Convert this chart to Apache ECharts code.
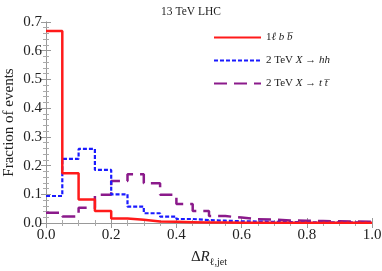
<!DOCTYPE html>
<html><head><meta charset="utf-8">
<script src="https://cdn.jsdelivr.net/npm/echarts@6/dist/echarts.min.js"></script>
<style>html,body{margin:0;padding:0;background:#fff}#c{width:382px;height:271px}</style>
</head><body><div id="c"></div>
<script>
const binEdges = [0,0.05,0.1,0.15,0.2,0.25,0.3,0.35,0.4,0.45,0.5,0.55,0.6,0.65,0.7,0.75,0.8,0.85,0.9,0.95,1.0];
const bbValues = [0.669,0.173,0.082,0.042,0.016,0.011,0.005,0.004,0.003,0.002,0.002,0.001,0.001,0.001,0.001,0.001,0.001,0.001,0.001,0.001];
const hhValues = [0.094,0.223,0.258,0.185,0.100,0.057,0.034,0.022,0.014,0.010,0.008,0.006,0.005,0.004,0.003,0.003,0.002,0.002,0.002,0.002];
const ttValues = [0.036,0.023,0.053,0.098,0.146,0.170,0.138,0.098,0.066,0.042,0.024,0.019,0.013,0.012,0.009,0.008,0.007,0.006,0.005,0.004];
const yTicks = [0,0.1,0.2,0.3,0.4,0.5,0.6,0.7];
const xTicks = [0,0.2,0.4,0.6,0.8,1.0];

function steps(vals){
  const d = vals.map((v,i)=>[binEdges[i], v]);
  d.push([binEdges[binEdges.length-1], vals[vals.length-1]]);
  return d;
}
const serif = "'Liberation Serif', 'DejaVu Serif', serif";
const chart = echarts.init(document.getElementById('c'));
function axisCommon(split){
  return {
    axisLine:{show:true,lineStyle:{color:'#999',width:1}},
    axisTick:{show:true,inside:true,length:5,lineStyle:{color:'#999'}},
    minorTick:{show:true,splitNumber:split,length:3,lineStyle:{color:'#aaa'}},
    splitLine:{show:false}
  };
}
chart.setOption({
  animation:false,
  textStyle:{fontFamily:serif},
  title:{text:'13 TeV LHC',left:'center',top:1,textStyle:{fontFamily:serif,fontSize:11.5,fontWeight:'normal',color:'#222'}},
  grid:{left:46,right:10,top:22,bottom:48,containLabel:false,outerBoundsMode:'none'},
  legend:{
    orient:'vertical',left:208,top:27,itemGap:12,itemWidth:47,itemHeight:12,
    itemStyle:{opacity:0},
    textStyle:{fontFamily:serif,fontSize:11,color:'#222',
      rich:{i:{fontStyle:'italic',fontFamily:serif,fontSize:11,color:'#222'},n:{fontFamily:serif,fontSize:11,color:'#222'}}},
    formatter:function(name){
      if(name==='bb') return '{n|1}{i|ℓ b b\u0305}';
      if(name==='hh') return '{n|2 TeV }{i|X}{n| → }{i|hh}';
      return '{n|2 TeV }{i|X}{n| → }{i|t t\u0305}';
    },
    data:['bb','hh','tt']
  },
  xAxis:[
    Object.assign({type:'value',min:0,max:1,interval:0.2,position:'bottom',
      axisLabel:{fontFamily:serif,fontSize:15,color:'#222',margin:5,formatter:v=>v.toFixed(1)},
      name:'{d|Δ}{r|R}{s|ℓ,jet}',nameLocation:'middle',nameGap:25,nameMoveOverlap:false,
      nameTextStyle:{rich:{d:{fontFamily:serif,fontSize:15,color:'#222'},r:{fontFamily:serif,fontStyle:'italic',fontSize:15,color:'#222'},s:{fontFamily:serif,fontSize:10,color:'#222',verticalAlign:'bottom',padding:[9,0,0,0]}}}
    },axisCommon(4)),
    Object.assign({type:'value',min:0,max:1,interval:0.2,position:'top',axisLabel:{show:false}},axisCommon(4))
  ],
  yAxis:[
    Object.assign({type:'value',min:0,max:0.7,interval:0.1,position:'left',
      axisLabel:{fontFamily:serif,fontSize:15,color:'#222',margin:4,formatter:v=>v.toFixed(1)},
      name:'Fraction of events',nameLocation:'middle',nameGap:29,nameMoveOverlap:false,
      nameTextStyle:{fontFamily:serif,fontSize:15,color:'#222'}
    },axisCommon(5)),
    Object.assign({type:'value',min:0,max:0.7,interval:0.1,position:'right',axisLabel:{show:false}},axisCommon(5))
  ],
  series:[
    {name:'bb',type:'line',step:'end',showSymbol:false,symbol:'none',data:steps(bbValues),z:4,
      lineStyle:{color:'#ff1a1a',width:2.5},itemStyle:{color:'#ff1a1a'}},
    {name:'hh',type:'line',step:'end',showSymbol:false,symbol:'none',data:steps(hhValues),z:3,
      lineStyle:{color:'#1a1aff',width:2.2,type:[4,2]},itemStyle:{color:'#1a1aff'}},
    {name:'tt',type:'line',step:'end',showSymbol:false,symbol:'none',data:steps(ttValues),z:2,
      lineStyle:{color:'#8b1a8b',width:2.5,type:[13,7]},itemStyle:{color:'#8b1a8b'}}
  ]
});
</script></body></html>
